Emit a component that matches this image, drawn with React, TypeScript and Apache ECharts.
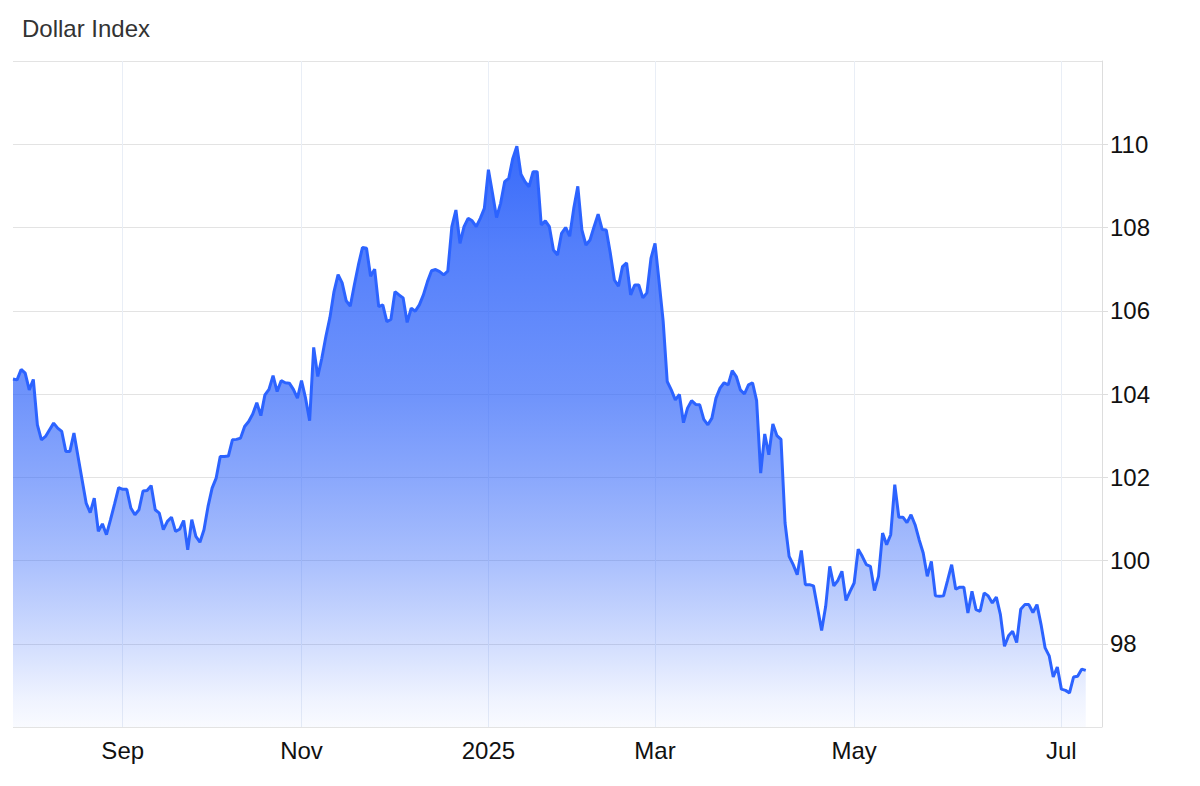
import React, { useEffect, useRef } from "react";
import * as echarts from "echarts";

const titleText = "Dollar Index";

// Daily index values, left to right
const valuesAugSep = [
  104.36, 104.34, 104.59, 104.5, 104.1, 104.35, 103.26, 102.9, 102.98, 103.14,
  103.3, 103.18, 103.1, 102.62, 102.62, 103.06, 102.5, 101.94, 101.38, 101.15,
  101.5, 100.7, 100.88, 100.62, 100.98, 101.36, 101.75, 101.71, 101.71, 101.26,
  101.1, 101.22, 101.67, 101.68, 101.8, 101.22, 101.14, 100.74, 100.94, 101.04,
  100.7, 100.75, 100.96, 100.26, 100.98, 100.58, 100.44, 100.74, 101.3, 101.74,
  101.98, 102.5, 102.5, 102.51, 102.9, 102.91, 102.94, 103.22, 103.34,
];
const valuesOctDec = [
  103.52, 103.79, 103.48, 103.98, 104.11, 104.44, 104.06, 104.32, 104.27, 104.26,
  104.11, 103.9, 104.32, 103.9, 103.36, 105.12, 104.42, 104.86, 105.38, 105.84,
  106.46, 106.87, 106.67, 106.24, 106.11, 106.62, 107.1, 107.52, 107.5, 106.83,
  107.0, 106.1, 106.14, 105.74, 105.79, 106.46, 106.38, 106.31, 105.72, 106.06,
  105.99, 106.14, 106.38, 106.7, 106.96, 106.99, 106.94, 106.86, 106.95,
];
const valuesDecMar = [
  108.02, 108.42, 107.62, 108.02, 108.22, 108.16, 108.02, 108.22, 108.46, 109.39,
  108.82, 108.24, 108.58, 109.1, 109.18, 109.66, 109.95, 109.28, 109.1, 108.98,
  109.34, 109.34, 108.06, 108.16, 108.02, 107.46, 107.34, 107.86, 108.0, 107.79,
  108.46, 108.99, 107.94, 107.58, 107.7, 108.02, 108.32, 107.95, 107.94, 107.38,
  106.74, 106.59, 107.06, 107.15, 106.38, 106.62, 106.62, 106.31, 106.43, 107.26,
  107.62, 106.7, 105.75,
];
const valuesMarApr = [
  104.3, 104.1, 103.86, 103.99, 103.31, 103.66, 103.84, 103.75, 103.74, 103.39,
  103.26, 103.42, 103.9, 104.14, 104.27, 104.22, 104.56, 104.42, 104.1, 104.0,
  104.22, 104.27, 103.84, 102.1, 103.04, 102.54, 103.28, 103.0, 102.91,
];
const valuesAprJul = [
  100.9, 100.1, 99.9, 99.66, 100.24, 99.42, 99.42, 99.39, 98.86, 98.32,
  98.9, 99.86, 99.39, 99.52, 99.74, 99.04, 99.26, 99.46, 100.27, 100.1,
  99.9, 99.86, 99.28, 99.62, 100.66, 100.38, 100.62, 101.82, 101.04, 101.04,
  100.91, 101.1, 100.86, 100.5, 100.18, 99.62, 99.98, 99.15, 99.14, 99.15,
  99.52, 99.9, 99.31, 99.36, 99.36, 98.74, 99.26, 98.82, 98.78, 99.22,
  99.15, 98.98, 99.12, 98.7, 97.94, 98.19, 98.3, 98.03, 98.83, 98.94,
  98.94, 98.75, 98.94, 98.46, 97.9, 97.71, 97.2, 97.44, 96.91, 96.88,
  96.82, 97.2, 97.22, 97.39, 97.36,
];

// Month tick labels and the data slot each one sits on
const tickLabels = ["Sep", "Nov", "2025", "Mar", "May", "Jul"];
const tickIndex = [27, 71, 117, 158, 207, 258];
// empty slots after the last value (axis runs on past the data)
const trailingSlots = 4;

const yMin = 96;
const yMax = 112;
const yStep = 2;

const FONT = "'Liberation Sans', Arial, Helvetica, sans-serif";

export default function App() {
  const ref = useRef<HTMLDivElement>(null);

  useEffect(() => {
    if (!ref.current) return;
    const chart = echarts.init(ref.current, null, { renderer: "svg" });

    const values = [
      ...valuesAugSep,
      ...valuesOctDec,
      ...valuesDecMar,
      ...valuesMarApr,
      ...valuesAprJul,
    ];
    const n = values.length + trailingSlots;
    const categories = Array.from({ length: n }, (_, i) => {
      const k = tickIndex.indexOf(i);
      return k >= 0 ? tickLabels[k] : String(i);
    });
    const data: (number | null)[] = [
      ...values,
      ...Array(trailingSlots).fill(null),
    ];
    const isTick = (i: number) => tickIndex.includes(i);

    const base = "50,102,250";
    chart.setOption({
      animation: false,
      backgroundColor: "#ffffff",
      title: {
        text: titleText,
        left: 17,
        top: 11,
        textStyle: {
          fontFamily: FONT,
          fontSize: 24,
          fontWeight: "normal",
          color: "#333333",
        },
      },
      grid: {
        left: 13,
        right: 98,
        top: 61,
        bottom: 59,
        outerBoundsMode: "none",
      },
      xAxis: {
        type: "category",
        data: categories,
        boundaryGap: false,
        axisLine: { show: false },
        axisTick: { show: false },
        axisLabel: {
          interval: (i: number) => isTick(i),
          margin: 11,
          fontSize: 24,
          color: "#111111",
          fontFamily: FONT,
        },
        splitLine: {
          show: true,
          interval: (i: number) => isTick(i),
          lineStyle: { color: "#e9eef6", width: 1 },
        },
      },
      yAxis: {
        type: "value",
        position: "right",
        min: yMin,
        max: yMax,
        interval: yStep,
        axisLine: { show: true, lineStyle: { color: "#dddddd" } },
        axisTick: { show: true, length: 6, lineStyle: { color: "#dddddd" } },
        axisLabel: {
          showMinLabel: false,
          showMaxLabel: false,
          margin: 8,
          fontSize: 24,
          color: "#111111",
          fontFamily: FONT,
        },
        splitLine: { show: true, lineStyle: { color: "#e3e3e3", width: 1 } },
      },
      series: [
        {
          type: "line",
          data,
          symbol: "none",
          showSymbol: false,
          connectNulls: false,
          lineStyle: { color: "#2c63ff", width: 3 },
          areaStyle: {
            opacity: 1,
            color: new echarts.graphic.LinearGradient(0, 0, 0, 1, [
              { offset: 0, color: `rgba(${base},0.97)` },
              { offset: 0.18, color: `rgba(${base},0.83)` },
              { offset: 0.43, color: `rgba(${base},0.70)` },
              { offset: 0.57, color: `rgba(${base},0.57)` },
              { offset: 0.71, color: `rgba(${base},0.42)` },
              { offset: 0.85, color: `rgba(${base},0.23)` },
              { offset: 0.95, color: `rgba(${base},0.08)` },
              { offset: 1, color: `rgba(${base},0.03)` },
            ]),
          },
        },
      ],
    });

    return () => chart.dispose();
  }, []);

  return (
    <div
      ref={ref}
      style={{ position: "fixed", left: 0, top: 0, width: 1200, height: 786 }}
    />
  );
}
